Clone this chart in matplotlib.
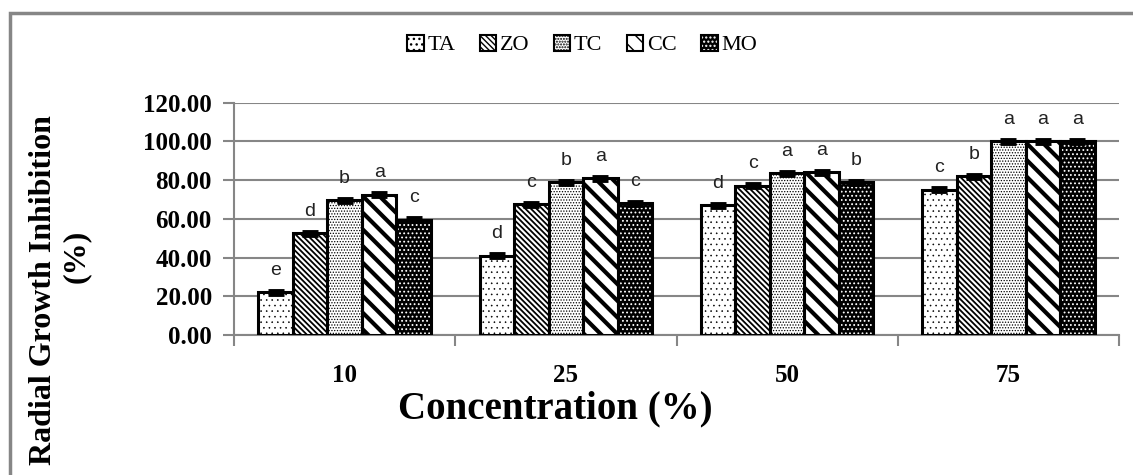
import numpy as np
import matplotlib
matplotlib.use('Agg')
import matplotlib.pyplot as plt
from matplotlib.patches import Patch, Rectangle

# Данные
concentrations = ['10', '25', '50', '75']
series = ['TA', 'ZO', 'TC', 'CC', 'MO']
ta = [22.0, 41.0, 67.0, 75.0]
zo = [52.5, 67.5, 77.0, 82.0]
tc = [69.5, 79.0, 83.5, 100.0]
cc = [72.5, 81.0, 84.0, 100.0]
mo = [59.5, 68.0, 79.0, 100.0]
err = [0.8, 0.8, 0.8, 0.8]
letters_ta = ['e', 'd', 'd', 'c']
letters_zo = ['d', 'c', 'c', 'b']
letters_tc = ['b', 'b', 'a', 'a']
letters_cc = ['a', 'a', 'a', 'a']
letters_mo = ['c', 'c', 'b', 'a']

values = [ta, zo, tc, cc, mo]
letters = [letters_ta, letters_zo, letters_tc, letters_cc, letters_mo]

# штриховки: (заливка, цвет штриховки, штриховка, толщина штриховки)
styles = [
    ('white', 'black', '...', 0.4),
    ('white', 'black', '\\\\\\\\\\\\', 1.3),
    ('white', 'black', '......', 0.6),
    ('white', 'black', '\\\\', 3.0),
    ('black', 'white', '....', 0.8),
]

serif = ['Liberation Serif', 'DejaVu Serif']
GRAY = '#868686'

fig = plt.figure(figsize=(11.33, 4.75), dpi=100)
ax = fig.add_axes([234 / 1133, 1 - 335 / 475, (1119 - 234) / 1133, (335 - 102.7) / 475])

x = np.arange(len(concentrations))
w = 0.156
handles = []
for i, (vals, (fc, hc, hatch, hlw)) in enumerate(zip(values, styles)):
    pos = x + (i - 2) * w
    with plt.rc_context({'hatch.linewidth': hlw}):
        ax.bar(pos, vals, w, color=fc, edgecolor=hc, hatch=hatch, lw=0, zorder=3)
    ax.bar(pos, vals, w, fill=False, edgecolor='black', lw=2.2, zorder=4)
    ax.errorbar(pos, vals, yerr=err, fmt='none', ecolor='black',
                elinewidth=3.5, capsize=5.5, capthick=3.5, zorder=5)
    for xp, v, lt in zip(pos, vals, letters[i]):
        ax.text(xp, v + 7, lt, ha='center', va='bottom', fontsize=14,
                family='Liberation Sans', color='#222222')
    with plt.rc_context({'hatch.linewidth': hlw}):
        h_fill = Patch(facecolor=fc, edgecolor=hc, hatch=hatch, lw=0)
    h_edge = Patch(fill=False, edgecolor='black', lw=1.5)
    handles.append((h_fill, h_edge))

ax.set_xlim(-0.5, len(concentrations) - 0.5)
ax.set_ylim(0, 120)
ax.set_yticks(np.arange(0, 121, 20))
ax.set_yticklabels([f"{v:.2f}" for v in np.arange(0, 121, 20)],
                   fontsize=18, fontweight='bold', family=serif)
ax.set_xticks(np.arange(-0.5, len(concentrations), 1))
ax.set_xticklabels([])
ax.set_xticks(x, minor=True)
ax.set_xticklabels(concentrations, minor=True, fontsize=18,
                   fontweight='bold', family=serif)
ax.tick_params(axis='x', which='minor', length=0, pad=21)
ax.tick_params(axis='x', which='major', length=8, width=1.5, color=GRAY)
ax.tick_params(axis='y', length=8, width=1.5, color=GRAY, pad=8)

ax.grid(axis='y', color=GRAY, lw=1.5, zorder=0)
ax.set_axisbelow(True)
for s in ('top', 'right'):
    ax.spines[s].set_visible(False)
for s in ('left', 'bottom'):
    ax.spines[s].set_color(GRAY)
    ax.spines[s].set_linewidth(1.5)

fig.text(555 / 1133, 1 - 409 / 475, 'Concentration (%)', ha='center', va='center',
         fontsize=28, fontweight='bold', family=serif)
fig.text(44 / 1133, 1 - 290 / 475, 'Radial Growth Inhibition', ha='center',
         va='center', rotation=90, fontsize=23, fontweight='bold', family=serif)
fig.text(76 / 1133, 1 - 256 / 475, '(%)', ha='center', va='center',
         rotation=90, fontsize=23, fontweight='bold', family=serif)

fig.legend(handles, series, loc='center', bbox_to_anchor=(582 / 1133, 1 - 45 / 475),
           ncol=5, frameon=False, prop={'family': serif, 'size': 16},
           handlelength=0.75, handleheight=0.75, handletextpad=0.15, columnspacing=1.1)

# рамка вокруг рисунка
fig.patches.append(Rectangle((10 / 1133, -0.1), 1.2, 1.1 - 12.5 / 475,
                             transform=fig.transFigure, fill=False,
                             edgecolor=GRAY, lw=2.5))

fig.savefig('out.png', dpi=100)
